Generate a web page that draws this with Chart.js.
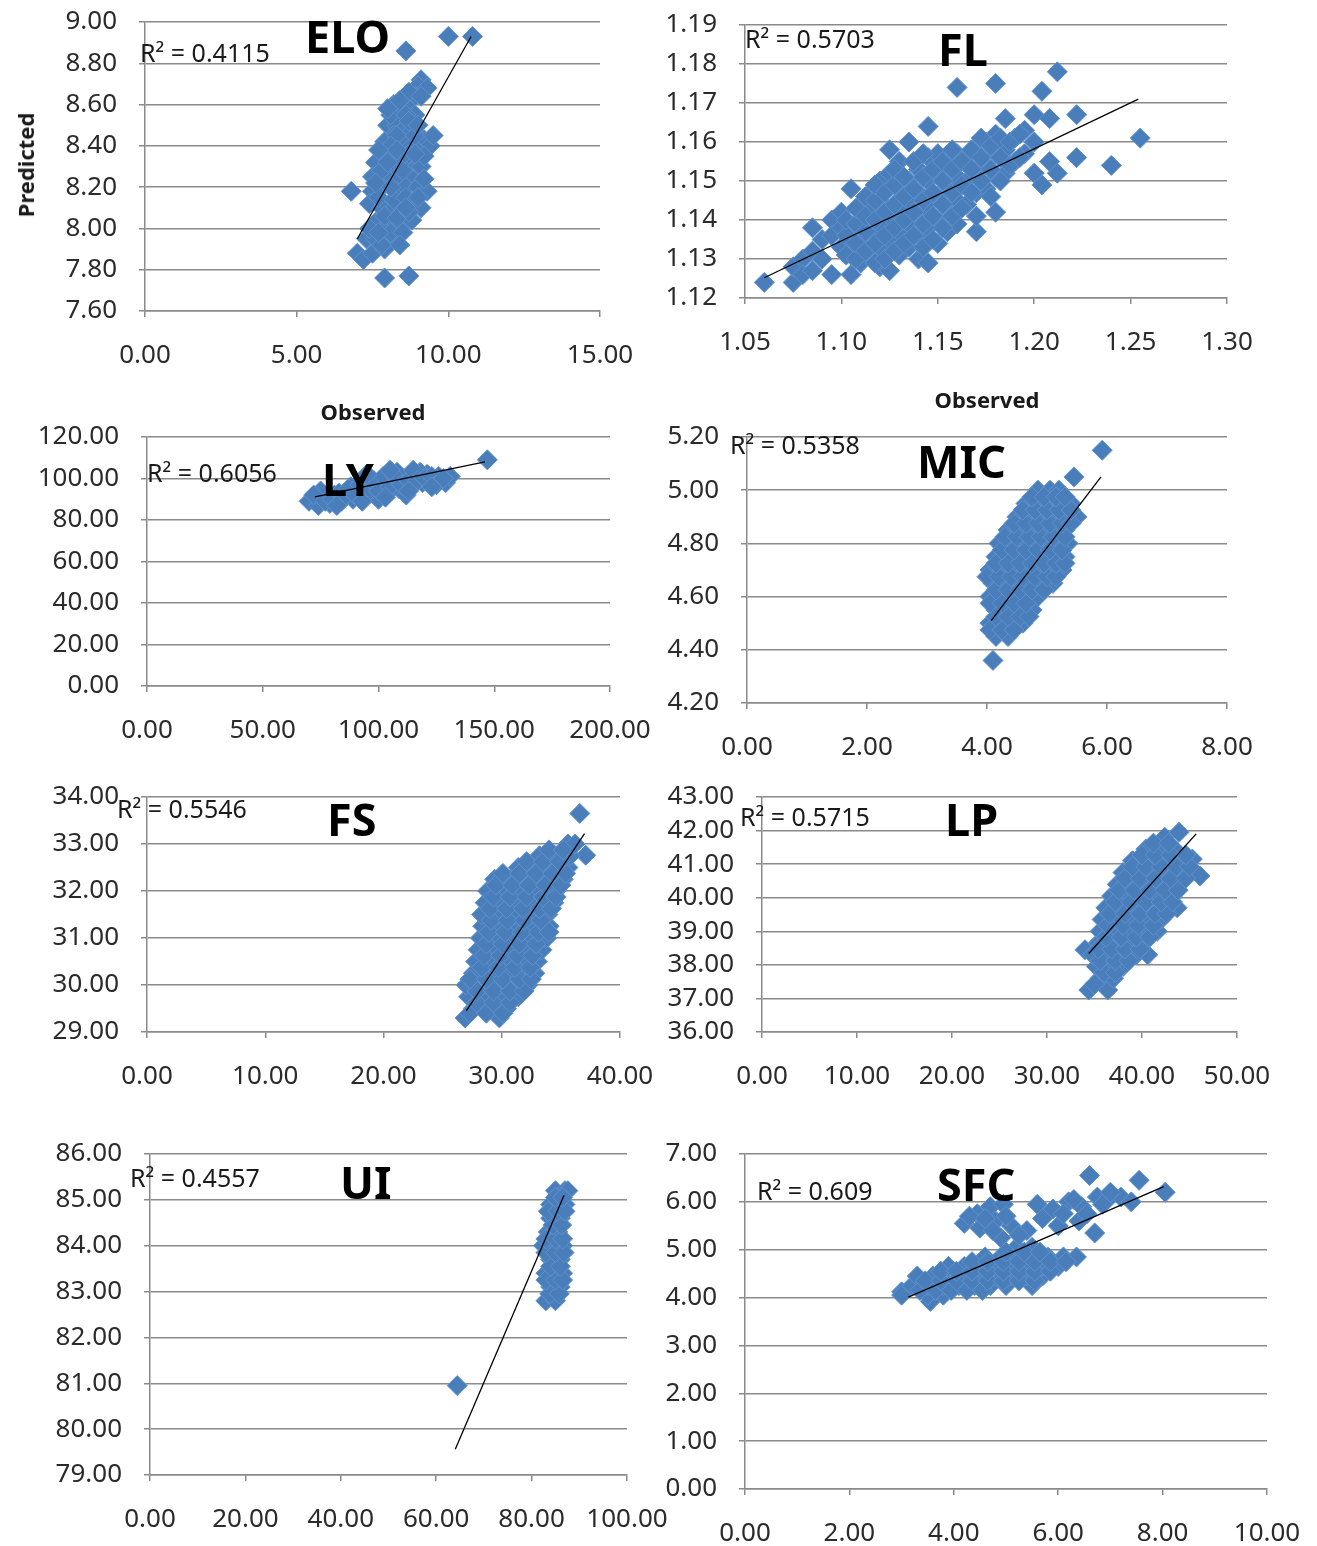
<!DOCTYPE html>
<html>
<head>
<meta charset="utf-8">
<script src="https://cdn.jsdelivr.net/npm/chart.js@4.4.0/dist/chart.umd.min.js"></script>
<style>
  body { margin: 0; background: #fff; }
  #page { position: relative; width: 1317px; height: 1546px; overflow: hidden; font-family: "Noto Sans", sans-serif; }
  canvas { position: absolute; }
  .lbl { position: absolute; white-space: nowrap; line-height: 1; color: #1a1a1a; transform: translateY(-50%); }
  .r2 { font-size: 25px; }
  .ttl { font-size: 45px; font-weight: bold; color: #000; }
  .axt { font-size: 22px; font-weight: bold; transform: translate(-50%, -50%); }
</style>
</head>
<body>
<div id="page"></div>
<script>
// ---- data (observed, predicted) ----
const eloObs  = [10.0,10.8,8.6, 9.1,9.0,9.3,8.9, 8.2,8.5,8.7,8.4,8.9, 8.0,8.3,8.6,8.8,8.2, 7.9,8.5,8.8,9.2,9.4,9.0,
  7.6,7.9,8.2,8.6,8.9,9.1, 7.5,8.0,8.4,8.8, 6.8,7.5,7.8,8.3,8.6,9.0,9.3, 7.4,7.8,8.1,8.4,8.8,9.1,
  7.6,7.9,8.2,8.5,8.8, 7.3,7.6,8.0,8.3, 7.0,7.2,7.5,7.9, 7.9,8.7,
  8.1,8.6,8.3,8.9,8.1,8.7,7.8,8.4,9.2,7.7,8.2,8.6,9.0,7.9,8.3,8.7,7.4,8.1,7.8,8.5,9.5,9.2,8.7,9.1,
  8.0,8.4,8.3,8.7,9.0,7.7,8.0,8.5,7.6,8.1,8.9,7.7,8.4,8.6];
const eloPred = [8.93,8.93,8.86, 8.72,8.69,8.68,8.64, 8.60,8.61,8.58,8.55,8.55, 8.50,8.50,8.49,8.47,8.45, 8.42,8.42,8.40,8.43,8.40,8.37,
  8.32,8.36,8.30,8.33,8.29,8.30, 8.25,8.24,8.25,8.24, 8.18,8.18,8.20,8.18,8.20,8.20,8.18, 8.12,8.10,8.08,8.12,8.13,8.10,
  8.03,8.00,8.04,8.02,8.04, 7.95,7.95,7.94,7.97, 7.88,7.85,7.88,7.90, 7.76,7.77,
  8.55,8.55,8.45,8.45,8.40,8.36,8.28,8.34,8.24,8.15,8.14,8.15,8.15,8.06,8.05,8.08,8.00,7.98,7.92,7.98,8.45,8.35,8.66,8.64,
  8.58,8.62,8.38,8.52,8.50,8.38,8.32,8.28,8.22,8.20,8.36,7.98,7.92,8.10];
const eloTrend = [[7.0, 7.95], [10.75, 8.93]];

const flObs  = [1.060, 1.075,1.075, 1.080,1.080, 1.085,1.085,1.085, 1.090,1.090, 1.095,1.095,1.095, 1.100,1.100,1.100,
  1.105,1.105,1.105,1.105, 1.110,1.110,1.110,1.110, 1.115,1.115,1.115,1.115, 1.120,1.120,1.120,1.120,1.120,
  1.125,1.125,1.125,1.125,1.125, 1.130,1.130,1.130,1.130,1.130, 1.135,1.135,1.135,1.135,1.135, 1.140,1.140,1.140,1.140,1.140,
  1.145,1.145,1.145,1.145,1.145,1.145, 1.150,1.150,1.150,1.150,1.150, 1.155,1.155,1.155,1.155, 1.160,1.160,1.160,1.160,1.160,
  1.165,1.165,1.165, 1.170,1.170,1.170,1.170,1.170, 1.175,1.175,1.175, 1.180,1.180,1.180,1.180,1.180, 1.185,1.185,1.185,
  1.190,1.190, 1.195,1.195, 1.200,1.200,1.200, 1.204,1.204, 1.208,1.208, 1.212,1.212, 1.222,1.222, 1.240, 1.255,
  1.1025,1.1025,1.1025, 1.1075,1.1075,1.1075,1.1075, 1.1125,1.1125,1.1125,1.1125, 1.1175,1.1175,1.1175,1.1175,1.1175,
  1.1225,1.1225,1.1225,1.1225, 1.1275,1.1275,1.1275,1.1275,1.1275, 1.1325,1.1325,1.1325,1.1325, 1.1375,1.1375,1.1375,1.1375,
  1.1425,1.1425,1.1425,1.1425,1.1425, 1.1475,1.1475,1.1475,1.1475, 1.1525,1.1525,1.1525,1.1525, 1.1575,1.1575,1.1575,1.1575,
  1.1625,1.1625,1.1625, 1.1675,1.1675,1.1675, 1.1725,1.1725,1.1725, 1.1775,1.1775,1.1775, 1.1825,1.1825,1.1825,
  1.1875,1.1875, 1.1925,1.1925];
const flPred = [1.124, 1.124,1.128, 1.130,1.126, 1.127,1.138,1.132, 1.135,1.130, 1.126,1.140,1.136, 1.133,1.142,1.138,
  1.126,1.148,1.131,1.137, 1.129,1.134,1.140,1.144, 1.131,1.137,1.143,1.147, 1.128,1.133,1.139,1.145,1.150,
  1.127,1.135,1.141,1.152,1.158, 1.131,1.137,1.143,1.148,1.155, 1.133,1.139,1.145,1.150,1.160, 1.130,1.136,1.142,1.147,1.153,
  1.129,1.138,1.144,1.150,1.156,1.164, 1.134,1.140,1.146,1.152,1.157, 1.137,1.143,1.149,1.155, 1.139,1.145,1.151,1.157,1.174,
  1.144,1.150,1.156, 1.137,1.141,1.147,1.153,1.159, 1.148,1.154,1.160, 1.142,1.151,1.157,1.162,1.175, 1.152,1.158,1.166,
  1.155,1.161, 1.157,1.163, 1.152,1.160,1.167, 1.149,1.173, 1.155,1.166, 1.152,1.178, 1.156,1.167, 1.154, 1.161,
  1.131,1.136,1.140, 1.130,1.134,1.139,1.143, 1.132,1.137,1.141,1.146, 1.129,1.134,1.140,1.145,1.149,
  1.130,1.136,1.142,1.147, 1.132,1.138,1.144,1.149,1.153, 1.134,1.140,1.146,1.151, 1.136,1.142,1.148,1.155,
  1.133,1.139,1.145,1.151,1.157, 1.135,1.141,1.147,1.153, 1.138,1.144,1.150,1.155, 1.141,1.147,1.153,1.158,
  1.143,1.149,1.155, 1.147,1.153,1.158, 1.150,1.156,1.161, 1.146,1.153,1.159, 1.150,1.156,1.161,
  1.154,1.160, 1.156,1.162];
const flTrend = [[1.060, 1.1252], [1.254, 1.1710]];

const lyObs  = [70,74,76,79,81,84,86,89,91,94,96,99,101,104,106,109,111,114,116,119,121,124,126,129,131,75,88,98,108,118,112,100,147,
  72,77,80,83,85,87,90,92,95,97,100,102,105,107,110,113,115,117,120,123,125,128,82,93,103,113,123,105,95];
const lyPred = [89,87,91,88,92,89,93,90,94,91,95,92,97,93,98,95,100,96,101,98,102,99,101,98,101,94,96,99,103,103,92,90,109,
  92,89,90,93,91,95,92,97,93,99,94,101,96,101,97,99,104,99,100,101,97,100,87,89,91,94,96,104,102];
const lyTrend = [[72.5, 91.1], [146, 108]];

const micObs  = [4.10,5.92,5.45,
  4.15,4.35, 4.05,4.25,4.45,4.60, 4.15,4.35,4.55,4.75, 4.05,4.25,4.45,4.65,4.85,
  4.10,4.30,4.50,4.70,4.90,5.10, 4.05,4.25,4.45,4.65,4.85,5.05,5.25, 4.15,4.35,4.55,4.75,4.95,5.15,5.30,
  4.20,4.40,4.60,4.80,5.00,5.20,5.35, 4.35,4.55,4.75,4.95,5.15,5.30, 4.50,4.70,4.90,5.10,5.30,5.50,
  4.65,4.85,5.05,5.25,5.40, 4.85,5.05,5.20,
  4.05,4.25,4.45, 4.15,4.35,4.55,4.70, 4.05,4.25,4.45,4.65, 4.15,4.35,4.55,4.75,4.95,
  4.00,4.20,4.40,4.60,4.80,5.00,5.15, 4.15,4.35,4.55,4.75,4.95,5.15,5.30, 4.25,4.45,4.65,4.85,5.05,5.25,
  4.30,4.50,4.70,4.90,5.10,5.30, 4.45,4.65,4.85,5.05,5.25,5.40, 4.60,4.80,5.00,5.20,5.40, 4.75,4.95,5.15,5.30];
const micPred = [4.36,5.15,5.05,
  4.45,4.45, 4.50,4.50,4.50,4.50, 4.55,4.55,4.55,4.55, 4.60,4.60,4.60,4.60,4.60,
  4.65,4.65,4.65,4.65,4.65,4.65, 4.70,4.70,4.70,4.70,4.70,4.70,4.70, 4.75,4.75,4.75,4.75,4.75,4.75,4.75,
  4.80,4.80,4.80,4.80,4.80,4.80,4.80, 4.85,4.85,4.85,4.85,4.85,4.85, 4.90,4.90,4.90,4.90,4.90,4.90,
  4.95,4.95,4.95,4.95,4.95, 5.00,5.00,5.00,
  4.475,4.475,4.475, 4.525,4.525,4.525,4.525, 4.575,4.575,4.575,4.575, 4.625,4.625,4.625,4.625,4.625,
  4.675,4.675,4.675,4.675,4.675,4.675,4.675, 4.725,4.725,4.725,4.725,4.725,4.725,4.725, 4.775,4.775,4.775,4.775,4.775,4.775,
  4.825,4.825,4.825,4.825,4.825,4.825, 4.875,4.875,4.875,4.875,4.875,4.875, 4.925,4.925,4.925,4.925,4.925, 4.975,4.975,4.975,4.975];
const micTrend = [[4.07, 4.51], [5.90, 5.05]];

const fsObs  = [36.6,37.1,
  26.9,29.8, 27.6,29.0,30.4, 27.2,28.6,30.0,31.4, 27.0,28.4,29.8,31.2,32.2, 27.6,29.0,30.4,31.8,32.8,
  27.8,29.2,30.6,32.0,33.0, 28.0,29.4,30.8,32.2,33.4, 28.2,29.6,31.0,32.4,33.8, 28.4,29.8,31.2,32.6,34.0,
  28.3,29.7,31.1,32.5,33.9, 28.6,30.0,31.4,32.8,34.4, 28.8,30.2,31.6,33.0,34.6, 29.4,30.8,32.2,33.6,35.2,
  31.4,32.8,34.2,35.6, 33.2,34.6,35.8, 35.6,36.2,
  27.3,28.7,30.1, 27.9,29.3,30.7, 27.9,29.3,30.7,31.9, 27.3,28.7,30.1,31.5,32.5, 28.3,29.7,31.1,32.4,
  28.5,29.9,31.3,32.6, 28.7,30.1,31.5,32.9, 28.9,30.3,31.7,33.1,34.0, 29.1,30.5,31.9,33.3,
  29.0,30.4,31.8,33.2,34.2, 29.3,30.7,32.1,33.5,34.6, 29.5,30.9,32.3,33.7,35.0, 30.1,31.5,32.9,34.3,35.4,
  32.1,33.5,34.9, 34.0,35.2];
const fsPred = [33.65,32.76,
  29.30,29.30, 29.50,29.50,29.50, 29.75,29.75,29.75,29.75, 30.00,30.00,30.00,30.00,30.00, 30.25,30.25,30.25,30.25,30.25,
  30.50,30.50,30.50,30.50,30.50, 30.75,30.75,30.75,30.75,30.75, 31.00,31.00,31.00,31.00,31.00, 31.25,31.25,31.25,31.25,31.25,
  31.50,31.50,31.50,31.50,31.50, 31.75,31.75,31.75,31.75,31.75, 32.00,32.00,32.00,32.00,32.00, 32.25,32.25,32.25,32.25,32.25,
  32.50,32.50,32.50,32.50, 32.75,32.75,32.75, 33.00,33.00,
  29.40,29.40,29.40, 29.625,29.625,29.625, 29.875,29.875,29.875,29.875, 30.125,30.125,30.125,30.125,30.125, 30.375,30.375,30.375,30.375,
  30.625,30.625,30.625,30.625, 30.875,30.875,30.875,30.875, 31.125,31.125,31.125,31.125,31.125, 31.375,31.375,31.375,31.375,
  31.625,31.625,31.625,31.625,31.625, 31.875,31.875,31.875,31.875,31.875, 32.125,32.125,32.125,32.125,32.125, 32.375,32.375,32.375,32.375,32.375,
  32.625,32.625,32.625, 32.875,32.875];
const fsTrend = [[27.0, 29.45], [37.0, 33.22]];

const lpObs  = [34.0,
  34.4,36.4, 35.6,37.0, 35.2,36.8,38.0, 34.8,36.4,38.0,39.4,40.6, 35.4,37.0,38.6,40.0, 35.6,37.2,38.8,40.4,41.6,
  35.8,37.4,39.0,40.6,42.0, 36.2,37.8,39.4,41.0,42.6,43.7, 36.8,38.4,40.0,41.6,43.2, 37.4,39.0,40.6,42.2,43.8,
  38.0,39.6,41.2,42.8,44.4,46.1, 39.0,40.6,42.2,43.8,45.3, 40.4,42.0,43.4, 42.4,43.9,
  35.0, 36.0,37.2, 35.6,37.2,38.6, 35.4,36.8,38.2,39.8, 36.2,37.8,39.4,40.8, 36.4,38.0,39.6,41.2,
  36.6,38.2,39.8,41.4,42.6, 37.2,38.8,40.4,42.0,43.2, 37.6,39.2,40.8,42.4,43.8, 38.2,39.8,41.4,43.0,44.6,
  39.0,40.4,42.0,43.6,45.0, 40.0,41.4,43.0,44.6, 41.2,42.8];
const lpPred = [38.45,
  37.25,37.25, 37.60,37.60, 37.95,37.95,37.95, 38.30,38.30,38.30,38.30,38.30, 38.65,38.65,38.65,38.65, 39.00,39.00,39.00,39.00,39.00,
  39.35,39.35,39.35,39.35,39.35, 39.70,39.70,39.70,39.70,39.70,39.70, 40.05,40.05,40.05,40.05,40.05, 40.40,40.40,40.40,40.40,40.40,
  40.75,40.75,40.75,40.75,40.75,40.65, 41.10,41.10,41.10,41.10,41.15, 41.45,41.45,41.45, 41.80,41.95,
  37.425, 37.775,37.775, 38.125,38.125,38.125, 38.475,38.475,38.475,38.475, 38.825,38.825,38.825,38.825, 39.175,39.175,39.175,39.175,
  39.525,39.525,39.525,39.525,39.525, 39.875,39.875,39.875,39.875,39.875, 40.225,40.225,40.225,40.225,40.225, 40.575,40.575,40.575,40.575,40.575,
  40.925,40.925,40.925,40.925,40.925, 41.275,41.275,41.275,41.275, 41.625,41.625];
const lpTrend = [[34.4, 38.34], [45.7, 41.90]];

const uiObs  = [64.4, 83.0,85.0, 84.0,86.0, 83.0,85.0,86.5, 84.0,86.0, 82.5,84.5,86.5, 83.5,85.5, 84.0,86.0, 84.0,86.0,87.0, 85.0,87.0,87.6,
  83.8,85.8, 83.0,85.0,86.5, 84.0,86.0, 83.0,85.0,86.8, 83.0,85.0,86.5, 84.5,86.3, 83.5,85.5,87.0, 85.0,86.5];
const uiPred = [80.95, 82.80,82.80, 83.10,83.10, 83.40,83.40,83.40, 83.70,83.70, 84.00,84.00,84.00, 84.30,84.30, 84.60,84.60, 84.90,84.90,84.90, 85.20,85.20,85.20,
  82.95,82.95, 83.25,83.25,83.25, 83.55,83.55, 83.85,83.85,83.85, 84.15,84.15,84.15, 84.45,84.45, 84.75,84.75,84.75, 85.05,85.05];
const uiTrend = [[64.0, 79.56], [86.8, 85.10]];

const sfcObs  = [3.0,3.55,
  3.0,3.5,3.8, 3.2,3.5,3.8,4.1,4.4,4.7,5.0,5.5, 3.3,3.6,3.9,4.2,4.5,4.8,5.1,5.4,5.7,
  3.9,4.2,4.5,4.8,5.1,5.4,5.7,6.0, 4.6,4.9,5.2,5.5,5.8,6.1,6.35, 5.2,5.5,
  4.2,4.45,4.7,4.95,4.5,4.8,5.1,5.4,4.9,5.6,5.9,6.2,6.45,6.6,6.75,6.95,7.2,7.4,6.4,6.7,6.55,7.55,8.05,5.7,6.0,
  3.35,3.65,3.95,4.25,4.55, 3.45,3.75,4.05,4.35,4.65,4.95,5.25,5.55, 3.75,4.05,4.35,4.65,4.95,5.25,5.55,5.85,
  4.35,4.65,4.95,5.25,5.55,5.85,6.15, 5.0,5.35,5.65,
  4.3,4.6,4.75,5.0,5.25,6.1,6.3,6.85,7.0];
const sfcPred = [4.12,3.92,
  4.05,4.05,4.05, 4.25,4.25,4.25,4.25,4.25,4.25,4.25,4.25, 4.45,4.45,4.45,4.45,4.45,4.45,4.45,4.45,4.45,
  4.65,4.65,4.65,4.65,4.65,4.65,4.65,4.65, 4.85,4.85,4.85,4.85,4.85,4.85,4.85, 5.05,5.05,
  5.55,5.75,5.90,5.95,5.45,5.60,5.50,5.40,5.25,5.95,5.85,6.00,5.90,6.55,6.10,6.05,6.10,6.00,5.60,5.35,5.75,6.45,6.20,5.65,5.50,
  4.15,4.15,4.15,4.15,4.15, 4.35,4.35,4.35,4.35,4.35,4.35,4.35,4.35, 4.55,4.55,4.55,4.55,4.55,4.55,4.55,4.55,
  4.75,4.75,4.75,4.75,4.75,4.75,4.75, 4.95,4.95,4.95,
  5.70,5.65,5.40,5.70,5.30,5.75,6.05,5.95,6.20];
const sfcTrend = [[3.13, 4.01], [8.02, 6.32]];

// axis ranges: [min, max, step]
const eloX = [0, 15, 5],         eloY = [7.6, 9.0, 0.2];
const flX  = [1.05, 1.30, 0.05], flY  = [1.12, 1.19, 0.01];
const lyX  = [0, 200, 50],       lyY  = [0, 120, 20];
const micX = [0, 8, 2],          micY = [4.2, 5.2, 0.2];
const fsX  = [0, 40, 10],        fsY  = [29, 34, 1];
const lpX  = [0, 50, 10],        lpY  = [36, 43, 1];
const uiX  = [0, 100, 20],       uiY  = [79, 86, 1];
const sfcX = [0, 10, 2],         sfcY = [0, 7, 1];

const names = ["ELO", "FL", "LY", "MIC", "FS", "LP", "UI", "SFC"];
const r2Values = ["0.4115", "0.5703", "0.6056", "0.5358", "0.5546", "0.5715", "0.4557", "0.609"];

const panels = [
  { obs: eloObs, pred: eloPred, trend: eloTrend, x: eloX, y: eloY },
  { obs: flObs,  pred: flPred,  trend: flTrend,  x: flX,  y: flY },
  { obs: lyObs,  pred: lyPred,  trend: lyTrend,  x: lyX,  y: lyY },
  { obs: micObs, pred: micPred, trend: micTrend, x: micX, y: micY },
  { obs: fsObs,  pred: fsPred,  trend: fsTrend,  x: fsX,  y: fsY },
  { obs: lpObs,  pred: lpPred,  trend: lpTrend,  x: lpX,  y: lpY },
  { obs: uiObs,  pred: uiPred,  trend: uiTrend,  x: uiX,  y: uiY },
  { obs: sfcObs, pred: sfcPred, trend: sfcTrend, x: sfcX, y: sfcY },
];

// ---- layout (page pixels) ----
// plot area [left, top, right, bottom], R² label [x, y], title [x, y]
const layout = [
  { box: [145, 22, 600, 311],     r2: [140, 52],   ttl: [305, 35] },
  { box: [745, 25, 1227, 298],    r2: [745, 38],   ttl: [938, 48] },
  { box: [147, 437, 610, 686],    r2: [147, 472],  ttl: [322, 478] },
  { box: [747, 437, 1227, 703],   r2: [730, 444],  ttl: [917, 460] },
  { box: [147, 797, 620, 1032],   r2: [117, 808],  ttl: [327, 818] },
  { box: [762, 797, 1237, 1032],  r2: [740, 816],  ttl: [945, 818] },
  { box: [150, 1154, 627, 1475],  r2: [130, 1177], ttl: [340, 1181] },
  { box: [745, 1154, 1267, 1489], r2: [757, 1190], ttl: [937, 1183] },
];

const GRID = "#8a8a8a";
const TICK = "#2b2b2b";
const YW = 150, PT = 45, PR = 85, XH = 75;
const page = document.getElementById("page");

function addText(cls, text, x, y) {
  const d = document.createElement("div");
  d.className = "lbl " + cls;
  d.innerHTML = text;
  d.style.left = x + "px";
  d.style.top = y + "px";
  page.appendChild(d);
  return d;
}

function makeChart(p, lay) {
  const [l, t, r, b] = lay.box;
  const cv = document.createElement("canvas");
  cv.width = (r - l) + YW + PR;
  cv.height = (b - t) + PT + XH;
  cv.style.left = (l - YW) + "px";
  cv.style.top = (t - PT) + "px";
  page.appendChild(cv);

  const pts = p.obs.map((v, i) => ({ x: v, y: p.pred[i] }));
  const line = p.trend.map(q => ({ x: q[0], y: q[1] }));

  new Chart(cv.getContext("2d"), {
    type: "scatter",
    data: {
      datasets: [
        { data: line, showLine: true, pointRadius: 0, borderColor: "#000", borderWidth: 1.3, order: 0 },
        { data: pts, pointStyle: "rectRot", pointRadius: 10, backgroundColor: "#4a7ebb",
          borderColor: "#5f92cf", borderWidth: 1, clip: false, order: 1 },
      ],
    },
    options: {
      responsive: false,
      animation: false,
      events: [],
      layout: { padding: { top: PT, right: PR, left: 0, bottom: 0 } },
      plugins: { legend: { display: false }, tooltip: { enabled: false } },
      scales: {
        x: {
          type: "linear", min: p.x[0], max: p.x[1],
          ticks: { stepSize: p.x[2], callback: v => v.toFixed(2), color: TICK, padding: 23,
                   maxRotation: 0, autoSkip: false, font: { family: "Noto Sans", size: 26 } },
          grid: { drawOnChartArea: false, drawTicks: true, tickLength: 6, color: GRID, lineWidth: 1.5 },
          border: { color: GRID, width: 1.5 },
          afterFit: s => { s.height = XH; },
        },
        y: {
          type: "linear", min: p.y[0], max: p.y[1],
          ticks: { stepSize: p.y[2], callback: v => v.toFixed(2), color: TICK, padding: 22,
                   autoSkip: false, font: { family: "Noto Sans", size: 26 } },
          grid: { drawTicks: true, tickLength: 6, color: GRID, lineWidth: 1.5 },
          border: { color: GRID, width: 1.5 },
          afterFit: s => { s.width = YW; },
        },
      },
    },
  });
}

panels.forEach((p, i) => makeChart(p, layout[i]));

// texts on top of the charts
layout.forEach((lay, i) => {
  addText("r2", "R² = " + r2Values[i], lay.r2[0], lay.r2[1]);
  addText("ttl", names[i], lay.ttl[0], lay.ttl[1]);
});
const pr = addText("axt", "Predicted", 25, 165);
pr.style.transform = "translate(-50%, -50%) rotate(-90deg)";
addText("axt", "Observed", 373, 411);
addText("axt", "Observed", 987, 399);
</script>
</body>
</html>
